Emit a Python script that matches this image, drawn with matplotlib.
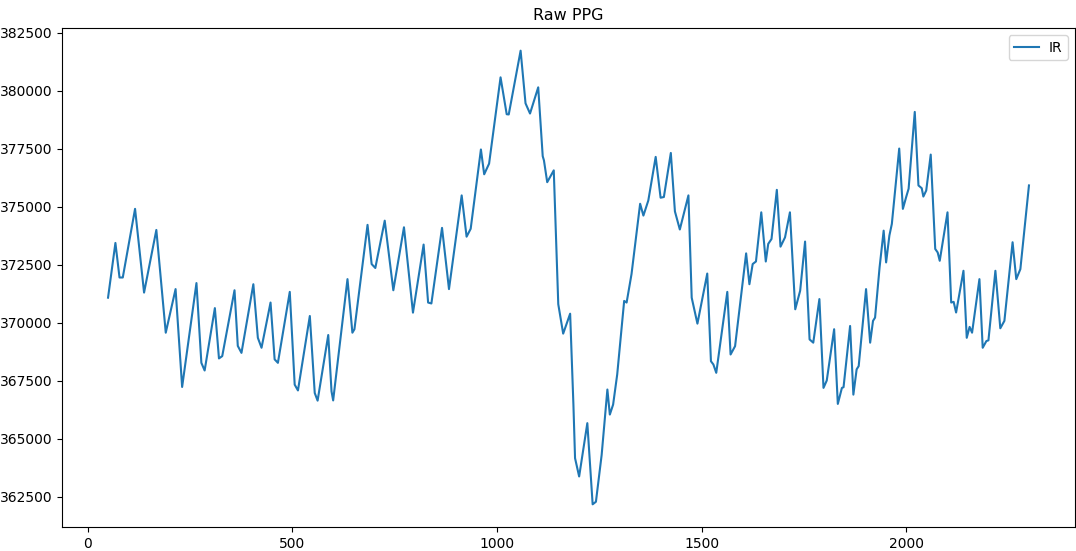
import matplotlib
matplotlib.use("Agg")
import matplotlib.pyplot as plt

plt.rcParams['font.family'] = ['Liberation Sans Narrow', 'DejaVu Sans']

# Sample index and raw IR reading at each turning point of the waveform
sample = [50, 68, 78, 86, 116, 138, 168, 191, 215, 231, 266, 278, 286, 311, 321, 329,
          359, 367, 376, 405, 416, 425, 447, 457, 465, 494, 506, 514, 543, 555, 562,
          588, 596, 600, 635, 647, 652,
          684, 694, 703, 726, 747, 773, 795, 821, 832, 840, 866, 883, 914, 926, 936,
          961, 969, 981, 1009, 1024, 1029, 1058, 1070, 1081, 1101, 1112, 1115, 1123,
          1139, 1150, 1162, 1179, 1187, 1191, 1201, 1221, 1234, 1242, 1256, 1270,
          1276, 1284, 1294, 1311, 1317, 1329, 1350, 1358, 1370, 1388, 1400, 1408,
          1425, 1435, 1447, 1468, 1476, 1490, 1514, 1523, 1529, 1536, 1563, 1571,
          1582, 1609, 1617, 1625, 1633, 1646, 1657, 1663, 1671, 1684, 1693, 1704,
          1716, 1729, 1741, 1753, 1764, 1773, 1788, 1798, 1806, 1824, 1833, 1843,
          1847, 1863, 1871, 1879, 1884, 1902, 1912, 1919, 1924, 1935, 1945, 1951,
          1959, 1965, 1983, 1992, 2000, 2006, 2021, 2030, 2038, 2042, 2049, 2060,
          2071, 2077, 2082, 2101, 2110, 2116, 2122, 2140, 2148, 2155, 2161, 2179,
          2187, 2196, 2201, 2218, 2230, 2240, 2260, 2269, 2279, 2300]

ir = [371080, 373440, 371950, 371950, 374910, 371300, 374000, 369570, 371450, 367230,
      371710, 368270, 367940, 370630, 368460, 368560, 371400, 369000, 368700, 371660,
      369350, 368920, 370870, 368420, 368270, 371330, 367330, 367080, 370290, 366970,
      366640, 369470, 367040, 366650, 371880, 369570,
      369720, 374220, 372530, 372360, 374400, 371400, 374115, 370435, 373370, 370870,
      370830, 374090, 371450, 375490, 373710, 374050, 377470, 376400, 376860, 380580,
      378990, 378980, 381730, 379460, 379020, 380150, 377180, 377000, 376060, 376570,
      370800, 369530, 370390, 366470, 364160, 363370, 365670, 362170, 362280, 364300,
      367120, 366040, 366470, 367770, 370940, 370870, 372100, 375130, 374620, 375270,
      377150, 375390, 375420, 377320, 374800, 374020, 375490, 371080, 369960, 372120,
      368340, 368200, 367840, 371330, 368630, 368990, 372990, 371660, 372530, 372640,
      374760, 372640, 373400, 373610, 375730, 373280, 373680, 374760, 370580, 371380,
      373500, 369280, 369140, 371020, 367190, 367510, 369720, 366500, 367190, 367220,
      369860, 366900, 367990, 368130, 371450, 369140, 370080, 370220, 372380, 373970,
      372600, 373760, 374260, 377510, 374910, 375420, 375780, 379090, 375920, 375800,
      375440, 375700, 377250, 373180, 373030, 372670, 374760, 370870, 370900, 370440,
      372240, 369350, 369820, 369570, 371880, 368920, 369210, 369240, 372240, 369760,
      370080, 373470, 371880, 372310, 375920]

fig = plt.figure(figsize=(10.76, 5.51), dpi=100)
ax = fig.add_axes([62 / 1076, 24 / 551, 1013 / 1076, 499 / 551])

ax.plot(sample, ir, color='#1f77b4', linewidth=1.5, label='IR')
ax.set_title('Raw PPG', fontsize=11.5)
ax.tick_params(labelsize=10)
ax.legend(loc='upper right', fontsize=10, handlelength=1.8, handletextpad=0.7)

fig.savefig('out.png', dpi=100)
